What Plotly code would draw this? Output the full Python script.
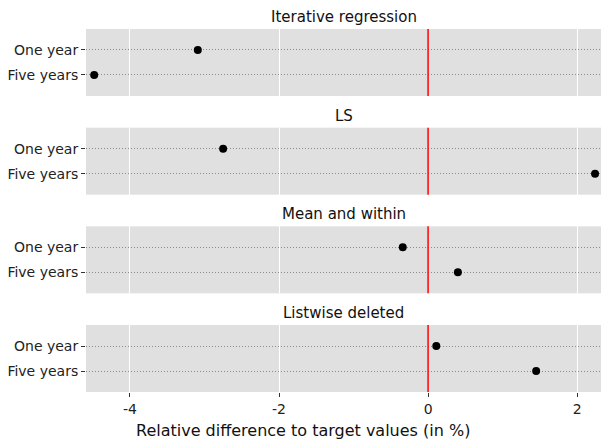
import plotly.graph_objects as go
from plotly.subplots import make_subplots

methods = ["Iterative regression", "LS", "Mean and within", "Listwise deleted"]
horizons = ["One year", "Five years"]
one_year = [-3.09, -2.75, -0.34, 0.11]
five_years = [-4.48, 2.24, 0.40, 1.45]
x_ticks = [-4, -2, 0, 2]
x_tick_text = ["-4", "-2", "0", "2"]
x_title = "Relative difference to target values (in %)"

fig = make_subplots(rows=4, cols=1, shared_xaxes=True, vertical_spacing=0.0873,
                    subplot_titles=methods)

for i, m in enumerate(methods):
    fig.add_trace(go.Scatter(
        x=[one_year[i], five_years[i]], y=horizons, mode="markers",
        marker=dict(color="black", size=8), showlegend=False, cliponaxis=False,
    ), row=i + 1, col=1)
    fig.add_shape(type="line", x0=0, x1=0, y0=0, y1=1, xref=f"x{i+1 if i else ''}",
                  yref=f"y{i+1 if i else ''} domain", line=dict(color="red", width=1.5),
                  layer="above")

fig.update_yaxes(type="category", categoryorder="array",
                 categoryarray=["Five years", "One year"], range=[-0.84, 1.84],
                 showgrid=True, gridcolor="#8a8a8a", griddash="1px,2px", gridwidth=1,
                 ticks="outside", ticklen=4, tickcolor="#333333", zeroline=False,
                 tickfont=dict(family="DejaVu Sans", size=14, color="#222222"),
                 showline=False)
fig.update_xaxes(range=[-4.59, 2.32], tickvals=x_ticks, ticktext=x_tick_text,
                 showgrid=True, gridcolor="white", gridwidth=1, zeroline=False,
                 showline=False, ticks="",
                 tickfont=dict(family="DejaVu Sans", size=14, color="#222222"))
fig.update_xaxes(ticks="outside", ticklen=4, tickcolor="#333333", row=4, col=1)
fig.update_annotations(font=dict(family="DejaVu Sans", size=15, color="#111111"),
                       yshift=1)

# axis caption centred on the full figure width
fig.add_annotation(text=x_title, xref="paper", yref="paper", x=0.4214, y=-0.1047,
                   xanchor="center", yanchor="middle", showarrow=False,
                   font=dict(family="DejaVu Sans", size=16, color="#111111"))

fig.update_layout(width=602, height=441, margin=dict(l=86, r=1, t=29, b=49),
                  plot_bgcolor="#e0e0e0", paper_bgcolor="white",
                  font=dict(family="DejaVu Sans"))
fig.write_html("out.html")
